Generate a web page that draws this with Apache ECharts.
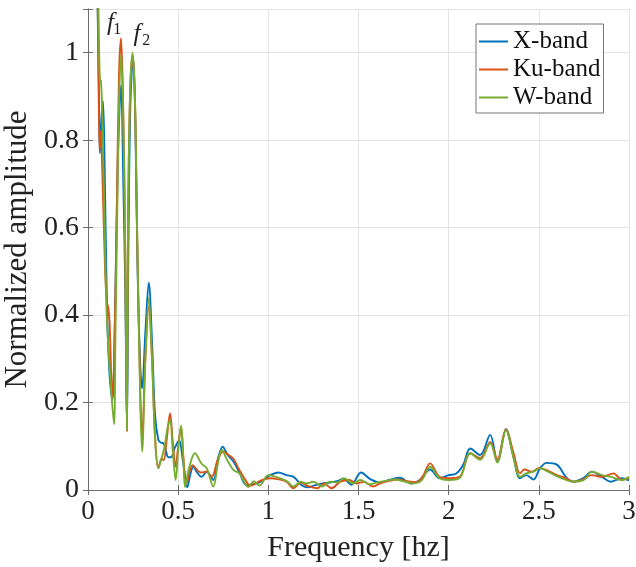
<!DOCTYPE html>
<html><head><meta charset="utf-8">
<script src="https://cdn.jsdelivr.net/npm/echarts@6/dist/echarts.min.js"></script>
<style>html,body{margin:0;padding:0;background:#fff}#c{width:636px;height:567px}</style>
</head><body><div id="c"></div>
<script>
const seriesNames = ['X-band', 'Ku-band', 'W-band'];
const seriesColors = ['#0072BD', '#D95319', '#77AC30'];

const xBand = [[0.05,1.2],[0.062,0.86],[0.066,0.77],[0.075,0.85],[0.083,0.89],[0.092,0.75],[0.105,0.42],[0.12,0.26],[0.135,0.205],[0.15,0.4],[0.165,0.75],[0.183,0.925],[0.196,0.7],[0.207,0.45],[0.216,0.14],[0.224,0.55],[0.235,0.88],[0.25,0.99],[0.262,0.85],[0.275,0.5],[0.29,0.28],[0.30,0.233],[0.318,0.36],[0.337,0.474],[0.355,0.34],[0.372,0.17],[0.39,0.115],[0.405,0.108],[0.418,0.107],[0.432,0.09],[0.445,0.075],[0.46,0.075],[0.48,0.095],[0.505,0.114],[0.525,0.07],[0.551,0.006],[0.567,0.035],[0.584,0.053],[0.605,0.04],[0.63,0.03],[0.658,0.042],[0.695,0.023],[0.72,0.07],[0.747,0.099],[0.775,0.08],[0.806,0.065],[0.84,0.04],[0.88,0.011],[0.935,0.015],[0.97,0.022],[1.01,0.034],[1.056,0.04],[1.10,0.034],[1.14,0.03],[1.185,0.011],[1.22,0.006],[1.26,0.011],[1.3,0.015],[1.34,0.017],[1.38,0.02],[1.416,0.026],[1.46,0.012],[1.514,0.04],[1.565,0.025],[1.62,0.017],[1.67,0.023],[1.73,0.028],[1.79,0.015],[1.84,0.023],[1.897,0.047],[1.95,0.027],[2.0,0.034],[2.04,0.037],[2.08,0.057],[2.12,0.095],[2.174,0.08],[2.23,0.126],[2.27,0.065],[2.318,0.139],[2.359,0.076],[2.396,0.027],[2.43,0.034],[2.47,0.024],[2.507,0.05],[2.544,0.062],[2.6,0.058],[2.65,0.03],[2.69,0.019],[2.747,0.027],[2.794,0.042],[2.85,0.03],[2.9,0.019],[2.96,0.027],[3.0,0.022]];

const kuBand = [[0.05,1.25],[0.059,0.93],[0.064,0.78],[0.07,0.82],[0.08,0.72],[0.095,0.5],[0.105,0.43],[0.113,0.415],[0.12,0.38],[0.135,0.21],[0.145,0.3],[0.16,0.65],[0.172,0.95],[0.183,1.033],[0.194,0.9],[0.205,0.6],[0.216,0.135],[0.222,0.6],[0.233,0.9],[0.247,0.995],[0.26,0.9],[0.272,0.6],[0.29,0.22],[0.30,0.12],[0.318,0.3],[0.337,0.42],[0.355,0.3],[0.372,0.12],[0.39,0.05],[0.409,0.072],[0.42,0.068],[0.435,0.11],[0.455,0.175],[0.47,0.11],[0.486,0.053],[0.5,0.1],[0.516,0.145],[0.53,0.07],[0.547,0.015],[0.58,0.057],[0.625,0.04],[0.657,0.042],[0.686,0.03],[0.72,0.07],[0.75,0.088],[0.78,0.08],[0.806,0.072],[0.84,0.045],[0.87,0.025],[0.9,0.01],[0.96,0.022],[1.01,0.027],[1.05,0.025],[1.1,0.019],[1.14,0.004],[1.18,0.017],[1.22,0.009],[1.27,0.004],[1.31,0.015],[1.35,0.004],[1.4,0.019],[1.45,0.023],[1.49,0.015],[1.53,0.019],[1.58,0.008],[1.62,0.015],[1.67,0.021],[1.72,0.024],[1.77,0.02],[1.82,0.018],[1.855,0.03],[1.897,0.061],[1.95,0.03],[2.0,0.027],[2.06,0.03],[2.12,0.084],[2.174,0.073],[2.23,0.11],[2.27,0.07],[2.318,0.139],[2.36,0.084],[2.396,0.038],[2.42,0.047],[2.46,0.042],[2.5,0.05],[2.54,0.046],[2.6,0.034],[2.65,0.027],[2.69,0.019],[2.74,0.023],[2.794,0.034],[2.85,0.03],[2.914,0.038],[2.96,0.023],[3.0,0.027]];

const wBand = [[0.05,1.3],[0.06,1.05],[0.066,0.94],[0.072,0.935],[0.08,0.85],[0.092,0.6],[0.104,0.4],[0.125,0.25],[0.144,0.15],[0.152,0.35],[0.161,0.6],[0.172,0.88],[0.183,0.995],[0.194,0.88],[0.205,0.6],[0.216,0.137],[0.222,0.6],[0.233,0.9],[0.247,1.0],[0.26,0.9],[0.272,0.6],[0.29,0.2],[0.30,0.088],[0.318,0.3],[0.337,0.44],[0.355,0.3],[0.372,0.12],[0.39,0.05],[0.41,0.075],[0.425,0.1],[0.44,0.14],[0.455,0.16],[0.47,0.09],[0.486,0.023],[0.5,0.09],[0.516,0.147],[0.53,0.06],[0.538,0.007],[0.56,0.05],[0.593,0.084],[0.63,0.06],[0.658,0.05],[0.695,0.008],[0.72,0.06],[0.742,0.092],[0.77,0.07],[0.806,0.046],[0.84,0.038],[0.89,0.007],[0.92,0.02],[0.95,0.01],[1.0,0.034],[1.05,0.029],[1.1,0.021],[1.14,0.008],[1.18,0.019],[1.21,0.015],[1.25,0.019],[1.3,0.008],[1.34,0.019],[1.38,0.017],[1.42,0.027],[1.47,0.015],[1.51,0.023],[1.56,0.013],[1.6,0.017],[1.65,0.021],[1.7,0.024],[1.75,0.02],[1.8,0.015],[1.85,0.022],[1.897,0.053],[1.95,0.027],[2.0,0.023],[2.06,0.027],[2.12,0.084],[2.174,0.069],[2.23,0.107],[2.27,0.063],[2.318,0.137],[2.36,0.073],[2.396,0.03],[2.43,0.038],[2.47,0.042],[2.507,0.05],[2.55,0.042],[2.61,0.03],[2.65,0.023],[2.69,0.019],[2.75,0.023],[2.794,0.042],[2.85,0.034],[2.9,0.03],[2.96,0.023],[3.0,0.03]];

// Peak annotations (text, frequency, amplitude, font size, italic)
const annotations = [
  ['f', 0.125, 1.068, 25, 'italic'],
  ['1', 0.162, 1.052, 16, 'normal'],
  ['f', 0.272, 1.042, 25, 'italic'],
  ['2', 0.323, 1.028, 16, 'normal']
];

const FONT = 'Liberation Serif';
const chart = echarts.init(document.getElementById('c'), null, {renderer: 'canvas'});
const axisColor = '#6e6e6e';
const gridColor = '#e4e4e4';

const baseAxis = {
  axisLine: {show: true, lineStyle: {color: axisColor, width: 1}},
  axisTick: {show: true, inside: true, length: 5, lineStyle: {color: axisColor}},
};

const data = [xBand, kuBand, wBand];
const series = data.map((d, i) => ({
  name: seriesNames[i],
  type: 'line',
  data: d,
  symbol: 'none',
  smooth: 0.35,
  clip: true,
  lineStyle: {color: seriesColors[i], width: 1.9},
  itemStyle: {color: seriesColors[i]},
  z: 3 + i
}));
series[2].markPoint = {
  symbol: 'circle', symbolSize: 0, silent: true,
  data: annotations.map(a => ({
    coord: [a[1], a[2]],
    label: {show: true, position: 'inside', formatter: a[0], color: '#222',
      fontFamily: FONT, fontSize: a[3], fontStyle: a[4]}
  }))
};

chart.setOption({
  animation: false,
  backgroundColor: '#fff',
  grid: {left: 88, right: 7, top: 9, bottom: 77, containLabel: false, outerBoundsMode: 'none'},
  legend: {
    data: seriesNames.map(n => ({name: n, icon: 'rect'})),
    orient: 'vertical',
    left: 476, top: 24,
    itemWidth: 29, itemHeight: 2, itemGap: 3,
    padding: [5, 3, 3, 3],
    backgroundColor: '#fff',
    borderColor: '#777', borderWidth: 1, borderRadius: 0,
    textStyle: {fontFamily: FONT, fontSize: 25, color: '#111', lineHeight: 25}
  },
  xAxis: [
    Object.assign({}, baseAxis, {
      type: 'value', min: 0, max: 3, interval: 0.5,
      name: 'Frequency [hz]', nameLocation: 'middle', nameGap: 43,
      nameTextStyle: {fontFamily: FONT, fontSize: 30, color: '#222'},
      axisLabel: {fontFamily: FONT, fontSize: 27, color: '#222', margin: 8},
      splitLine: {show: true, lineStyle: {color: gridColor}}
    }),
    Object.assign({}, baseAxis, {
      type: 'value', min: 0, max: 3, interval: 0.5, position: 'top',
      axisLabel: {show: false}, splitLine: {show: false}
    })
  ],
  yAxis: [
    Object.assign({}, baseAxis, {
      type: 'value', min: 0, max: 1.1, interval: 0.2,
      name: 'Normalized amplitude', nameLocation: 'middle', nameGap: 48,
      nameTextStyle: {fontFamily: FONT, fontSize: 31, color: '#222'},
      axisLabel: {fontFamily: FONT, fontSize: 28, color: '#222', margin: 9,
        formatter: v => (v > 1.05 ? '' : String(Math.round(v * 10) / 10))},
      splitLine: {show: true, lineStyle: {color: gridColor}}
    }),
    Object.assign({}, baseAxis, {
      type: 'value', min: 0, max: 1.1, interval: 0.2, position: 'right',
      axisLabel: {show: false}, splitLine: {show: false}
    })
  ],
  series: series
});
</script></body></html>
